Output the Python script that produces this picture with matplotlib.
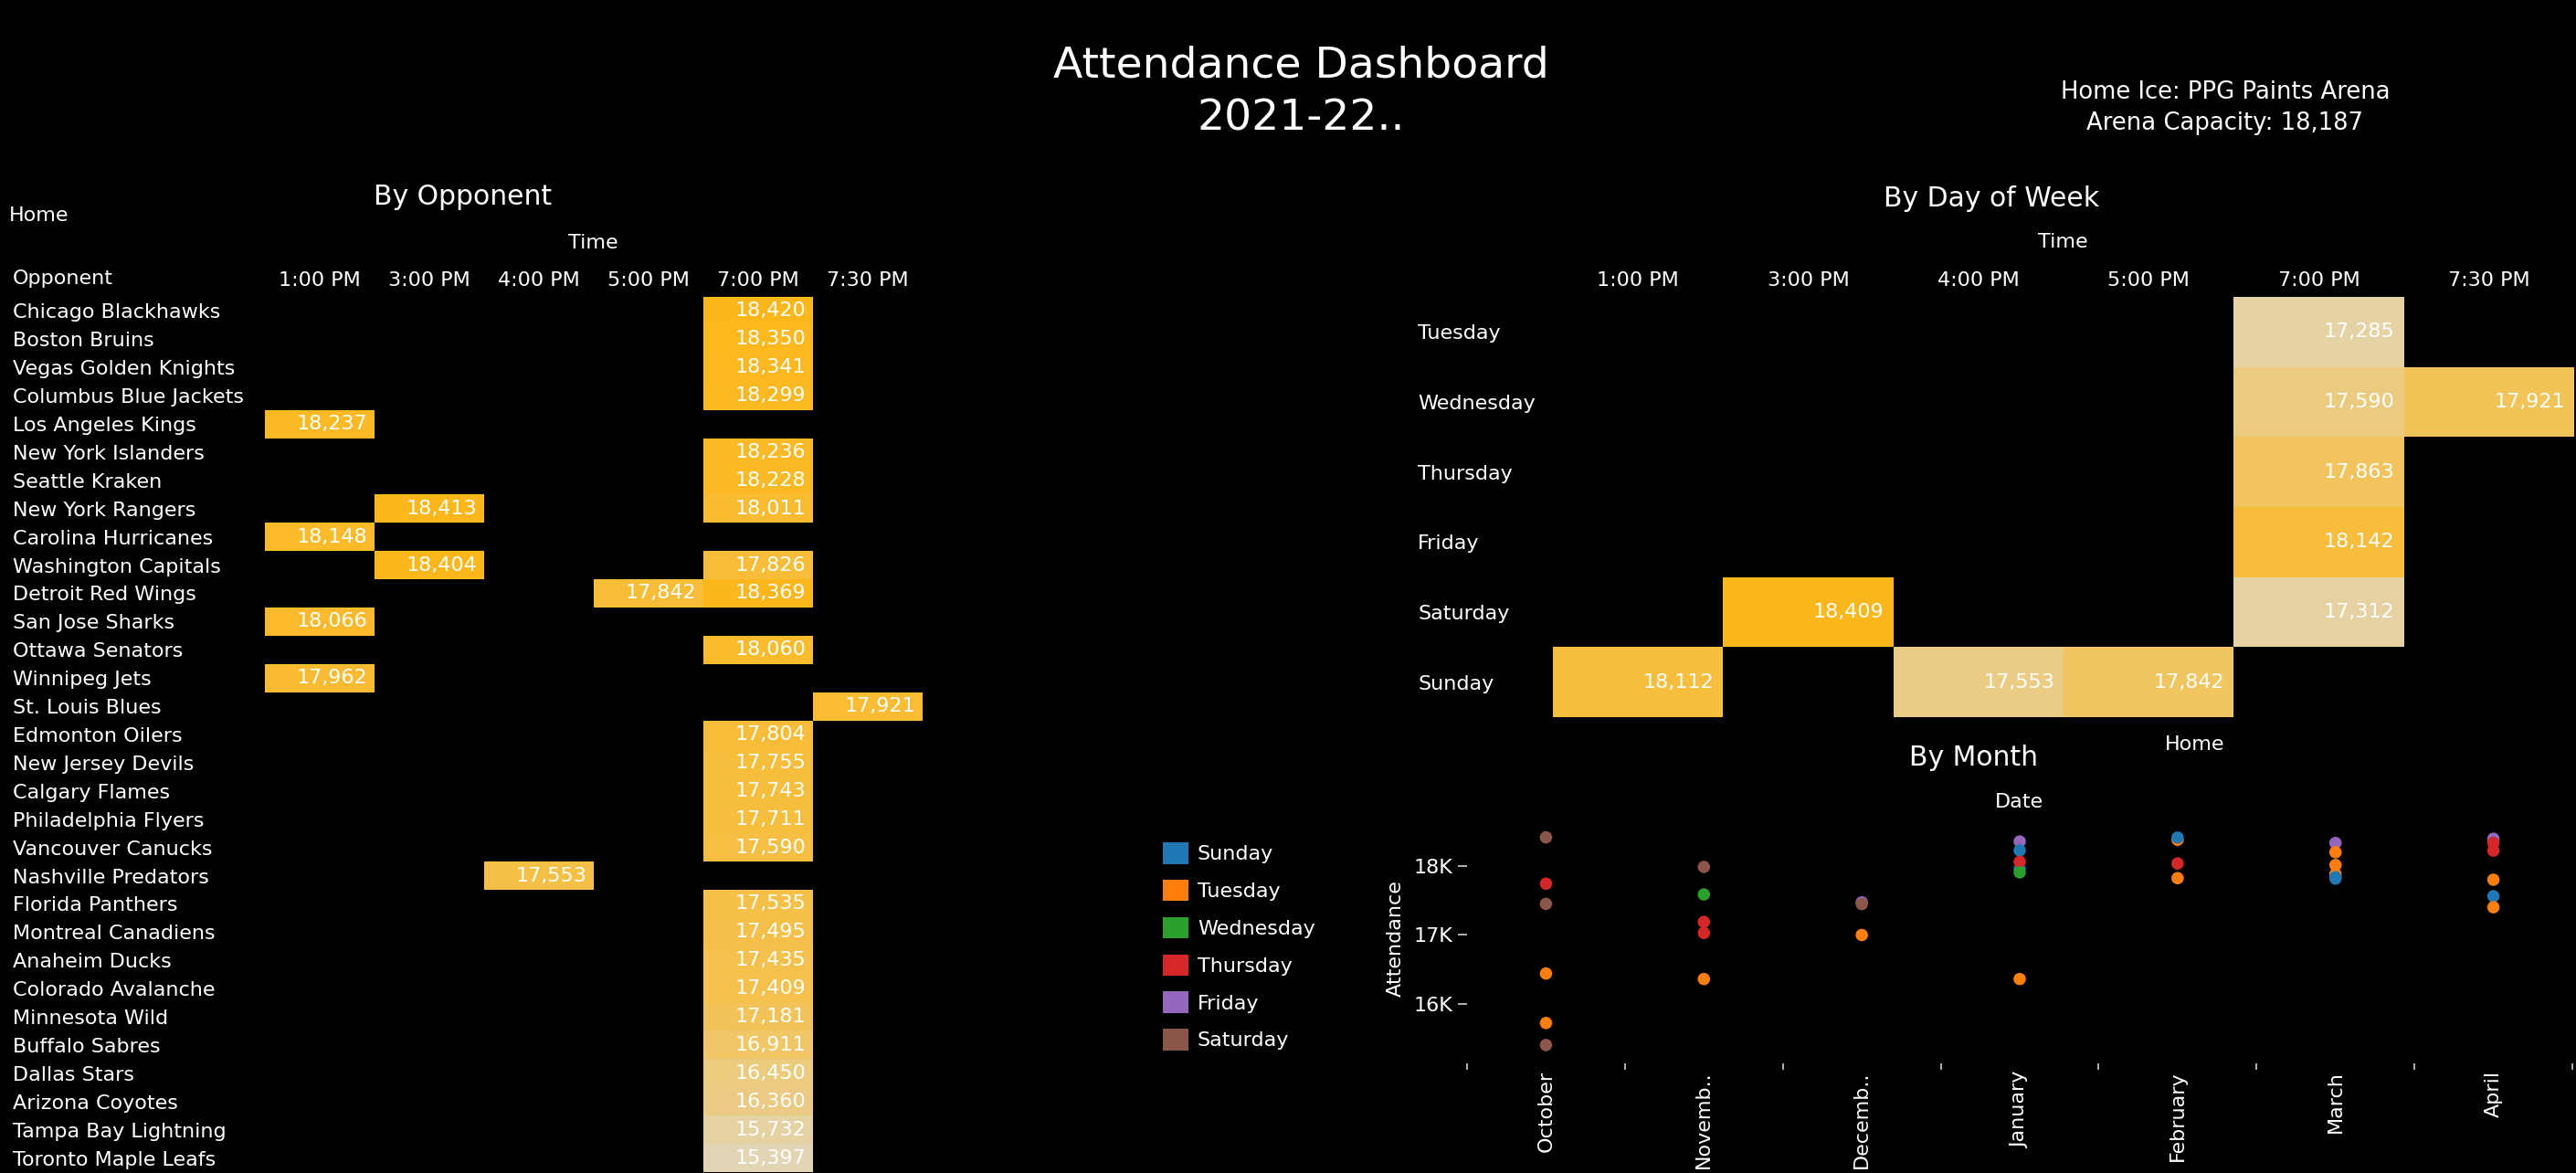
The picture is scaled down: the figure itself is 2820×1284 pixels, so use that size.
import numpy as np
import matplotlib
matplotlib.use('Agg')
import matplotlib.pyplot as plt
from matplotlib.colors import LinearSegmentedColormap
from matplotlib.patches import Patch

N = np.nan

# ---- data ----
times = ['1:00 PM', '3:00 PM', '4:00 PM', '5:00 PM', '7:00 PM', '7:30 PM']

opponents = ['Chicago Blackhawks', 'Boston Bruins', 'Vegas Golden Knights',
             'Columbus Blue Jackets', 'Los Angeles Kings', 'New York Islanders',
             'Seattle Kraken', 'New York Rangers', 'Carolina Hurricanes',
             'Washington Capitals', 'Detroit Red Wings', 'San Jose Sharks',
             'Ottawa Senators', 'Winnipeg Jets', 'St. Louis Blues',
             'Edmonton Oilers', 'New Jersey Devils', 'Calgary Flames',
             'Philadelphia Flyers', 'Vancouver Canucks', 'Nashville Predators',
             'Florida Panthers', 'Montreal Canadiens', 'Anaheim Ducks',
             'Colorado Avalanche', 'Minnesota Wild', 'Buffalo Sabres',
             'Dallas Stars', 'Arizona Coyotes', 'Tampa Bay Lightning',
             'Toronto Maple Leafs']

#            1PM    3PM    4PM    5PM    7PM    7:30PM
opp_att = [[N,     N,     N,     N,     18420, N],
           [N,     N,     N,     N,     18350, N],
           [N,     N,     N,     N,     18341, N],
           [N,     N,     N,     N,     18299, N],
           [18237, N,     N,     N,     N,     N],
           [N,     N,     N,     N,     18236, N],
           [N,     N,     N,     N,     18228, N],
           [N,     18413, N,     N,     18011, N],
           [18148, N,     N,     N,     N,     N],
           [N,     18404, N,     N,     17826, N],
           [N,     N,     N,     17842, 18369, N],
           [18066, N,     N,     N,     N,     N],
           [N,     N,     N,     N,     18060, N],
           [17962, N,     N,     N,     N,     N],
           [N,     N,     N,     N,     N,     17921],
           [N,     N,     N,     N,     17804, N],
           [N,     N,     N,     N,     17755, N],
           [N,     N,     N,     N,     17743, N],
           [N,     N,     N,     N,     17711, N],
           [N,     N,     N,     N,     17590, N],
           [N,     N,     17553, N,     N,     N],
           [N,     N,     N,     N,     17535, N],
           [N,     N,     N,     N,     17495, N],
           [N,     N,     N,     N,     17435, N],
           [N,     N,     N,     N,     17409, N],
           [N,     N,     N,     N,     17181, N],
           [N,     N,     N,     N,     16911, N],
           [N,     N,     N,     N,     16450, N],
           [N,     N,     N,     N,     16360, N],
           [N,     N,     N,     N,     15732, N],
           [N,     N,     N,     N,     15397, N]]

weekdays = ['Tuesday', 'Wednesday', 'Thursday', 'Friday', 'Saturday', 'Sunday']
day_att = [[N,     N,     N,     N,     17285, N],
           [N,     N,     N,     N,     17590, 17921],
           [N,     N,     N,     N,     17863, N],
           [N,     N,     N,     N,     18142, N],
           [N,     18409, N,     N,     17312, N],
           [18112, N,     17553, 17842, N,     N]]

months = ['October', 'Novemb..', 'Decemb..', 'January', 'February', 'March', 'April']
game_month = [0, 0, 0, 0, 0, 0,
              1, 1, 1, 1, 1,
              2, 2, 2,
              3, 3, 3, 3, 3, 3,
              4, 4, 4, 4,
              5, 5, 5, 5, 5, 5,
              6, 6, 6, 6, 6, 6]
game_att = [18420, 17747, 17453, 16440, 15720, 15400,
            17990, 17590, 17190, 17030, 16360,
            17475, 17450, 17000,
            18360, 18230, 17960, 18065, 17910, 16360,
            18385, 18417, 18040, 17827,
            18338, 18204, 18018, 17884, 17840, 17820,
            18400, 18338, 18227, 17804, 17564, 17404]
game_day = ['Saturday', 'Thursday', 'Saturday', 'Tuesday', 'Tuesday', 'Saturday',
            'Saturday', 'Wednesday', 'Thursday', 'Thursday', 'Tuesday',
            'Friday', 'Saturday', 'Tuesday',
            'Friday', 'Sunday', 'Sunday', 'Thursday', 'Wednesday', 'Tuesday',
            'Tuesday', 'Sunday', 'Thursday', 'Tuesday',
            'Friday', 'Tuesday', 'Tuesday', 'Tuesday', 'Sunday', 'Sunday',
            'Friday', 'Thursday', 'Thursday', 'Tuesday', 'Sunday', 'Tuesday']

legend_days = ['Sunday', 'Tuesday', 'Wednesday', 'Thursday', 'Friday', 'Saturday']
day_colors = ['#1f77b4', '#ff7f0e', '#2ca02c', '#d62728', '#9467bd', '#8c564b']

# ---- figure ----
W, H = 2820, 1284
plt.rcParams['font.family'] = ['DejaVu Sans']
plt.rcParams['text.color'] = 'white'
fig = plt.figure(figsize=(W / 100, H / 100), dpi=100, facecolor='black')
FS = 16


def fx(x):
    return x / W


def fy(y):
    return 1 - y / H


def box(x0, y0, x1, y1):
    return [fx(x0), fy(y1), fx(x1) - fx(x0), (y1 - y0) / H]


cmap = LinearSegmentedColormap.from_list('att', ['#E2D5B4', '#FDB71A'])


def heatmap(ax, data, rows, vmin, vmax, row_pad, txt_off):
    arr = np.ma.masked_invalid(np.array(data, dtype=float))
    ax.set_facecolor('black')
    ax.pcolormesh(arr, cmap=cmap, vmin=vmin, vmax=vmax, edgecolors='face', linewidth=0)
    ax.set_xlim(0, len(times))
    ax.set_ylim(len(rows), 0)
    for (i, j), v in np.ndenumerate(np.array(data, dtype=float)):
        if not np.isnan(v):
            ax.annotate(f'{v:,.0f}', xy=(j + 1, i + 0.5), xytext=(txt_off, 0),
                        textcoords='offset points', ha='right', va='center',
                        color='white', fontsize=FS)
    ax.xaxis.tick_top()
    ax.set_xticks(np.arange(len(times)) + 0.5, times)
    ax.set_yticks(np.arange(len(rows)) + 0.5, rows)
    ax.tick_params(axis='x', length=0, pad=5.5, labelsize=FS, labelcolor='white')
    ax.tick_params(axis='y', length=0, pad=row_pad, labelsize=FS, labelcolor='white')
    for t in ax.get_yticklabels():
        t.set_ha('left')
    for s in ax.spines.values():
        s.set_visible(False)


# By Opponent
ax1 = fig.add_axes(box(290, 325, 1010, 1283))
heatmap(ax1, opp_att, opponents, 15397, 18420, (290 - 14) / 1.389, -5.8)

# By Day of Week
ax2 = fig.add_axes(box(1700, 325, 2818, 785))
heatmap(ax2, day_att, weekdays, 17160, 18409, (1700 - 1552) / 1.389, -7.2)

# By Month
ax3 = fig.add_axes(box(1606, 895, 2816, 1164))
ax3.set_facecolor('black')
col = {d: c for d, c in zip(legend_days, day_colors)}
ax3.scatter(game_month, game_att, c=[col[d] for d in game_day], s=95,
            linewidths=0, zorder=3)
ax3.set_xlim(-0.5, len(months) - 0.5)
ax3.set_ylim(15133, 18707)
ax3.set_xticks(range(len(months)), months, rotation=90)
ax3.set_xticks(np.arange(-0.5, len(months)), minor=True)
ax3.tick_params(axis='x', which='major', length=0, pad=6, labelsize=FS, labelcolor='white')
ax3.tick_params(axis='x', which='minor', length=5, width=1.2, color='#cfcfcf')
ax3.set_yticks([16000, 17000, 18000], ['16K', '17K', '18K'])
ax3.tick_params(axis='y', length=7, width=1.2, color='#cfcfcf', pad=4,
                labelsize=FS, labelcolor='white')
for s in ax3.spines.values():
    s.set_visible(False)

handles = [Patch(facecolor=c, edgecolor='none') for c in day_colors]
fig.legend(handles, legend_days, loc='upper left',
           bbox_to_anchor=(fx(1273), fy(922)), frameon=False, fontsize=FS,
           handlelength=1.25, handleheight=1.25, handletextpad=0.45,
           labelspacing=0.78, borderpad=0, borderaxespad=0, labelcolor='white')

# ---- titles and labels ----
fig.text(fx(1424), fy(72), 'Attendance Dashboard', fontsize=34, ha='center', va='center')
fig.text(fx(1424), fy(130), '2021-22..', fontsize=34, ha='center', va='center')
fig.text(fx(2436), fy(101), 'Home Ice: PPG Paints Arena', fontsize=18.6, ha='center', va='center')
fig.text(fx(2436), fy(135), 'Arena Capacity: 18,187', fontsize=18.6, ha='center', va='center')

fig.text(fx(507), fy(215), 'By Opponent', fontsize=21.5, ha='center', va='center')
fig.text(fx(10), fy(236), 'Home', fontsize=FS, ha='left', va='center')
fig.text(fx(649), fy(266), 'Time', fontsize=FS, ha='center', va='center')
fig.text(fx(14), fy(305), 'Opponent', fontsize=FS, ha='left', va='center')

fig.text(fx(2180), fy(217), 'By Day of Week', fontsize=21.5, ha='center', va='center')
fig.text(fx(2258), fy(265), 'Time', fontsize=FS, ha='center', va='center')

fig.text(fx(2161), fy(830), 'By Month', fontsize=21.5, ha='center', va='center')
fig.text(fx(2403), fy(815), 'Home', fontsize=FS, ha='center', va='center')
fig.text(fx(2210), fy(878), 'Date', fontsize=FS, ha='center', va='center')
fig.text(fx(1528), fy(1027), 'Attendance', fontsize=FS, rotation=90, ha='center', va='center')

fig.savefig('out.png', dpi=100, facecolor='black')
